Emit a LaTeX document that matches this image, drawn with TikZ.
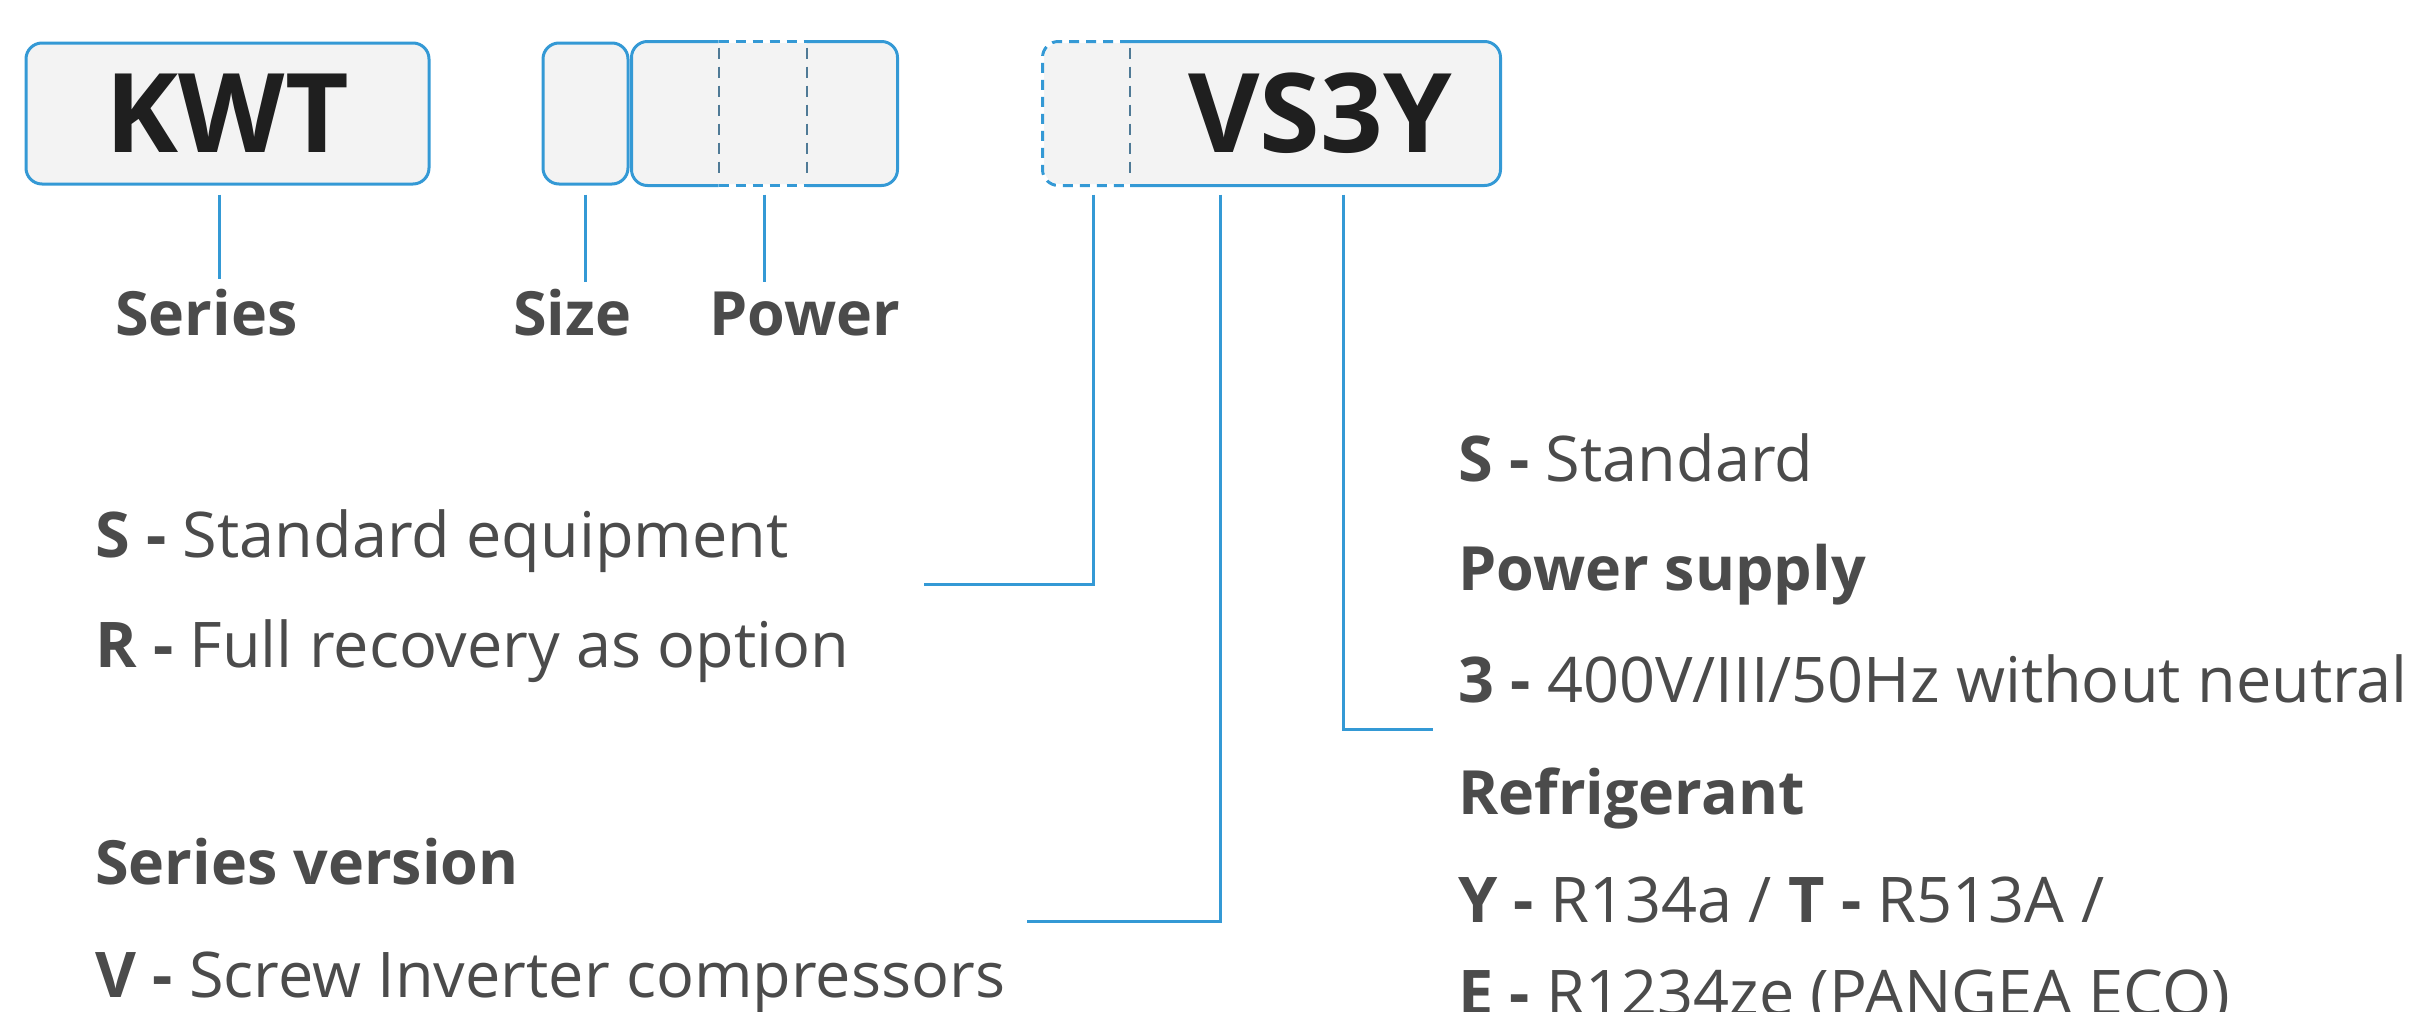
\documentclass[tikz,border=0pt]{standalone}
\usepackage{fontspec}
\setmainfont{Open Sans}
\definecolor{codeblue}{HTML}{3499D5}
\definecolor{codefill}{HTML}{F3F3F3}
\definecolor{codeink}{HTML}{1F1F1F}
\definecolor{notegray}{HTML}{4B4B4B}
\definecolor{splitgray}{HTML}{4F7A96}
\tikzset{
  codebox/.style={fill=codefill, line width=3pt, rounded corners=16pt,
    minimum height=141pt, inner sep=0pt, text=codeink,
    font=\fontsize{110}{110}\selectfont\bfseries},
  conn/.style={draw=codeblue, line width=3pt},
  brk/.style={draw=codeblue, line width=3pt, dash pattern=on 10pt off 7pt},
  split/.style={draw=splitgray, line width=2pt, dash pattern=on 11pt off 8pt},
  head/.style={anchor=base west, inner sep=0pt, text=notegray,
    font=\fontsize{61}{61}\selectfont\bfseries},
  note/.style={anchor=base west, inner sep=0pt, text=notegray,
    font=\fontsize{63}{63}\selectfont},
}

\begin{document}
\begin{tikzpicture}[x=1pt,y=-1pt]
  \useasboundingbox (0,0) rectangle (2426,1012);
  % code boxes
  \node[codebox, draw=codeblue, minimum width=403pt] (kwt) at (227.5,113.5) {KWT};
  \node[codebox, draw=codeblue, minimum width=85pt] (size) at (585.5,113.5) {};
  \node[codebox, minimum width=263pt] (pwr) at (764.5,113.5) {};
  \node[codebox, minimum width=455pt] (vsy) at (1271.5,113.5) {};
  \node[codebox, fill=none] (vsytxt) at (1320,113.5) {VS3Y};
  % power box, open middle part
  \draw[conn, rounded corners=16pt] ([xshift=-46pt]pwr.north) -| (pwr.west) |- ([xshift=-46pt]pwr.south);
  \draw[conn, rounded corners=16pt] ([xshift=42pt]pwr.north) -| (pwr.east) |- ([xshift=42pt]pwr.south);
  \draw[brk] ([xshift=-46pt]pwr.north) -- ([xshift=42pt]pwr.north);
  \draw[brk] ([xshift=-46pt]pwr.south) -- ([xshift=42pt]pwr.south);
  \draw[split] ([xshift=-46pt,yshift=-6pt]pwr.north) -- ([xshift=-46pt,yshift=6pt]pwr.south);
  \draw[split] ([xshift=42pt,yshift=-6pt]pwr.north) -- ([xshift=42pt,yshift=6pt]pwr.south);
  % VS3Y box, open first letter
  \draw[brk, rounded corners=16pt] ([xshift=-141.5pt]vsy.north) -| (vsy.west) |- ([xshift=-141.5pt]vsy.south);
  \draw[conn, rounded corners=16pt] ([xshift=-141.5pt]vsy.north) -| (vsy.east) |- ([xshift=-141.5pt]vsy.south);
  \draw[split] ([xshift=-141.5pt,yshift=-6pt]vsy.north) -- ([xshift=-141.5pt,yshift=6pt]vsy.south);

  % labels under the boxes
  \node[head] (series) at (115,335) {Series};
  \node[head] (sizelbl) at (513,335) {Size};
  \node[head] (pwrlbl) at (709,335) {Power};
  \draw[conn] ([xshift=-8pt,yshift=-9pt]kwt.south) -- ++(0,84);
  \draw[conn] ([yshift=-9pt]size.south) -- ++(0,87);
  \draw[conn] ([yshift=-9pt]pwr.south) -- ++(0,87);

  % options, left
  \node[note] (optS) at (95,557) {\textbf{S -} Standard equipment};
  \node[note] (optR) at (95,667) {\textbf{R -} Full recovery as option};
  \node[head] (vers) at (95,884) {Series version};
  \node[note] (verV) at (95,997) {\textbf{V -} Screw Inverter compressors};
  % options, right
  \node[note] (stdS) at (1458,481) {\textbf{S -} Standard};
  \node[head] (supply) at (1458,590) {Power supply};
  \node[note] (sup3) at (1458,702) {\textbf{3 -} 400V/III/50Hz without neutral};
  \node[head] (refr) at (1458,814) {Refrigerant};
  \node[note] (refY) at (1458,922) {\textbf{Y -} R134a / \textbf{T -} R513A /};
  \node[note] (refE) at (1458,1015) {\textbf{E -} R1234ze (PANGEA ECO)};

  \draw[conn] ([xshift=-178.5pt,yshift=-9pt]vsy.south) |- ++(-169,390);
  \draw[conn] ([xshift=-51.5pt,yshift=-9pt]vsy.south) |- ++(-193,727);
  \draw[conn] ([xshift=71.5pt,yshift=-9pt]vsy.south) |- ++(90,535);
\end{tikzpicture}
\end{document}
